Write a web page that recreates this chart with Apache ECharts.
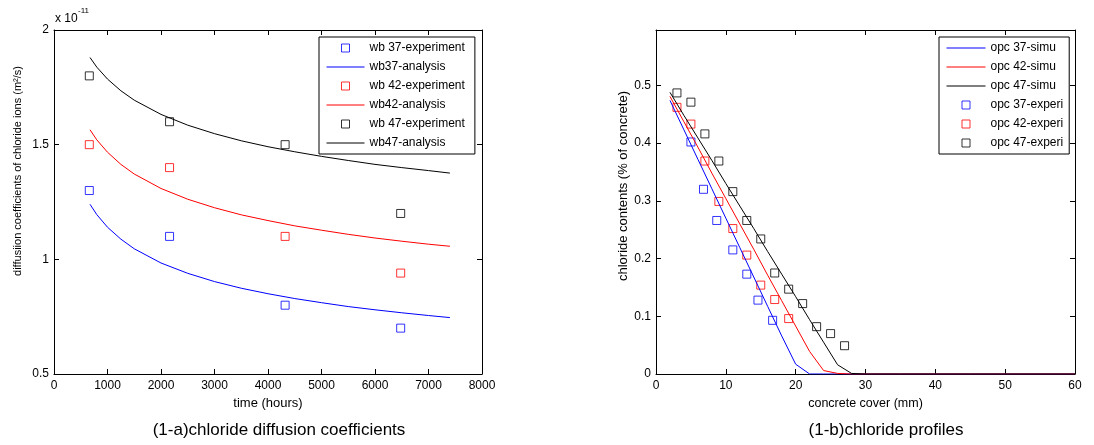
<!DOCTYPE html>
<html>
<head>
<meta charset="utf-8">
<script src="https://cdn.jsdelivr.net/npm/echarts@6/dist/echarts.min.js"></script>
<style>html,body{margin:0;padding:0;background:#fff}#c{width:1094px;height:445px}</style>
</head>
<body>
<div id="c"></div>
<script>
// ---------- (1-a) chloride diffusion coefficients ----------
const timeExp = [660, 2160, 4320, 6480];
const wb37Exp = [1.30, 1.10, 0.80, 0.70];
const wb42Exp = [1.50, 1.40, 1.10, 0.94];
const wb47Exp = [1.80, 1.60, 1.50, 1.20];
const timeAna = [673, 800, 1000, 1250, 1500, 2000, 2500, 3000, 3500, 4000, 4500, 5000, 5500, 6000, 6500, 7000, 7400];
const wb37Ana = [1.240, 1.195, 1.140, 1.088, 1.046, 0.984, 0.939, 0.903, 0.874, 0.850, 0.829, 0.811, 0.794, 0.780, 0.767, 0.755, 0.746];
const wb42Ana = [1.565, 1.521, 1.467, 1.414, 1.372, 1.309, 1.262, 1.225, 1.194, 1.169, 1.146, 1.127, 1.109, 1.093, 1.079, 1.066, 1.057];
const wb47Ana = [1.880, 1.838, 1.786, 1.735, 1.694, 1.632, 1.585, 1.548, 1.517, 1.491, 1.469, 1.449, 1.431, 1.414, 1.400, 1.387, 1.376];
const leftNames = ['wb 37-experiment', 'wb37-analysis', 'wb 42-experiment', 'wb42-analysis', 'wb 47-experiment', 'wb47-analysis'];

// ---------- (1-b) chloride profiles ----------
const coverSim = [2, 4, 6, 8, 10, 12, 14, 16, 18, 20, 22, 24, 26, 28, 30, 35, 40, 45, 50, 55, 60];
const opc37Sim = [0.474, 0.423, 0.372, 0.321, 0.270, 0.219, 0.168, 0.117, 0.066, 0.017, 0.000, 0, 0, 0, 0, 0, 0, 0, 0, 0, 0];
const opc42Sim = [0.481, 0.437, 0.393, 0.348, 0.304, 0.260, 0.216, 0.171, 0.127, 0.083, 0.039, 0.006, 0.001, 0, 0, 0, 0, 0, 0, 0, 0];
const opc47Sim = [0.488, 0.448, 0.409, 0.370, 0.330, 0.291, 0.252, 0.212, 0.173, 0.134, 0.094, 0.055, 0.016, 0.001, 0, 0, 0, 0, 0, 0, 0];
const cover37Exp = [5, 6.8, 8.7, 11, 13, 14.6, 16.7];
const opc37Exp = [0.402, 0.320, 0.266, 0.215, 0.173, 0.128, 0.093];
const cover42Exp = [3, 5, 7, 9, 11, 13, 15, 17, 19];
const opc42Exp = [0.462, 0.433, 0.369, 0.299, 0.252, 0.206, 0.154, 0.129, 0.096];
const cover47Exp = [3, 5, 7, 9, 11, 13, 15, 17, 19, 21, 23, 25, 27];
const opc47Exp = [0.487, 0.471, 0.416, 0.369, 0.316, 0.266, 0.234, 0.175, 0.147, 0.122, 0.082, 0.070, 0.049];
const rightNames = ['opc 37-simu', 'opc 42-simu', 'opc 47-simu', 'opc 37-experi', 'opc 42-experi', 'opc 47-experi'];

const BLUE = '#0000ff', RED = '#ff0000', BLACK = '#000000';
const FONT = '"Liberation Sans", Arial, Helvetica, sans-serif';
const zip = (xs, ys) => xs.map((x, i) => [x, ys[i]]);
const SQUARE = 'path://M0,0L10,0L10,10L0,10Z';

function scatter(name, xi, yi, xs, ys, color) {
  return { name, type: 'scatter', xAxisIndex: xi, yAxisIndex: yi, data: zip(xs, ys),
    symbol: 'rect', symbolSize: 8, silent: true,
    itemStyle: { color: 'rgba(0,0,0,0)', borderColor: color, borderWidth: 1 } };
}
function line(name, xi, yi, xs, ys, color) {
  return { name, type: 'line', xAxisIndex: xi, yAxisIndex: yi, data: zip(xs, ys),
    symbol: 'none', showSymbol: false, silent: true,
    lineStyle: { color, width: 1 }, itemStyle: { color } };
}
function legendItem(name, color, isSquare) {
  return isSquare
    ? { name, icon: SQUARE, itemStyle: { color: 'rgba(0,0,0,0)', borderColor: color, borderWidth: 1 } }
    : { name, itemStyle: { opacity: 0 }, lineStyle: { width: 1 } };
}
const plain = v => String(+v.toFixed(6));
function xAx(grid, min, max, interval, pos, show) {
  return { type: 'value', gridIndex: grid, min, max, interval, position: pos,
    axisLine: { show: true, onZero: false, lineStyle: { color: '#000', width: 1 } },
    axisTick: { show: true, inside: true, length: 5, lineStyle: { color: '#000' } },
    axisLabel: { show, color: '#000', fontSize: 12, fontFamily: FONT, margin: 6, formatter: plain },
    splitLine: { show: false } };
}
function yAx(grid, min, max, interval, pos, show) {
  return { type: 'value', gridIndex: grid, min, max, interval, position: pos,
    axisLine: { show: true, onZero: false, lineStyle: { color: '#000', width: 1 } },
    axisTick: { show: true, inside: true, length: 5, lineStyle: { color: '#000' } },
    axisLabel: { show, color: '#000', fontSize: 12, fontFamily: FONT, margin: 5, formatter: plain,
      showMaxLabel: max < 1 ? false : true },
    splitLine: { show: false } };
}

const chart = echarts.init(document.getElementById('c'), null, { renderer: 'canvas' });
const legendCommon = { orient: 'vertical', itemGap: 7, itemHeight: 8, backgroundColor: '#fff',
  borderColor: '#000', borderWidth: 1, borderRadius: 0, selectedMode: false,
  lineStyle: { width: 1 },
  textStyle: { fontSize: 12, color: '#000', fontFamily: FONT } };

chart.setOption({
  animation: false,
  backgroundColor: '#fff',
  grid: [
    { left: 54, top: 30, width: 428, height: 344 },
    { left: 656, top: 30, width: 419, height: 344 }
  ],
  xAxis: [
    Object.assign(xAx(0, 0, 8000, 1000, 'bottom', true), { name: 'time (hours)', nameLocation: 'middle', nameGap: 23,
      nameTextStyle: { color: '#000', fontSize: 13, fontFamily: FONT } }),
    xAx(0, 0, 8000, 1000, 'top', false),
    Object.assign(xAx(1, 0, 60, 10, 'bottom', true), { name: 'concrete cover (mm)', nameLocation: 'middle', nameGap: 23,
      nameTextStyle: { color: '#000', fontSize: 12.5, fontFamily: FONT } }),
    xAx(1, 0, 60, 10, 'top', false)
  ],
  yAxis: [
    yAx(0, 0.5, 2, 0.5, 'left', true),
    yAx(0, 0.5, 2, 0.5, 'right', false),
    yAx(1, 0, 0.596, 0.1, 'left', true),
    yAx(1, 0, 0.596, 0.1, 'right', false)
  ],
  legend: [
    Object.assign({}, legendCommon, { left: 319, top: 37, itemWidth: 38, padding: [5, 10, 5, 7],
      data: [legendItem(leftNames[0], BLUE, true), legendItem(leftNames[1]), legendItem(leftNames[2], RED, true),
             legendItem(leftNames[3]), legendItem(leftNames[4], BLACK, true), legendItem(leftNames[5])] }),
    Object.assign({}, legendCommon, { left: 939, top: 37, itemWidth: 39, padding: [5, 6, 5, 7],
      data: [legendItem(rightNames[0]), legendItem(rightNames[1]), legendItem(rightNames[2]),
             legendItem(rightNames[3], BLUE, true), legendItem(rightNames[4], RED, true), legendItem(rightNames[5], BLACK, true)] })
  ],
  series: [
    scatter(leftNames[0], 0, 0, timeExp, wb37Exp, BLUE),
    line(leftNames[1], 0, 0, timeAna, wb37Ana, BLUE),
    scatter(leftNames[2], 0, 0, timeExp, wb42Exp, RED),
    line(leftNames[3], 0, 0, timeAna, wb42Ana, RED),
    scatter(leftNames[4], 0, 0, timeExp, wb47Exp, BLACK),
    line(leftNames[5], 0, 0, timeAna, wb47Ana, BLACK),
    line(rightNames[0], 2, 2, coverSim, opc37Sim, BLUE),
    line(rightNames[1], 2, 2, coverSim, opc42Sim, RED),
    line(rightNames[2], 2, 2, coverSim, opc47Sim, BLACK),
    scatter(rightNames[3], 2, 2, cover37Exp, opc37Exp, BLUE),
    scatter(rightNames[4], 2, 2, cover42Exp, opc42Exp, RED),
    scatter(rightNames[5], 2, 2, cover47Exp, opc47Exp, BLACK)
  ],
  graphic: [
    { type: 'text', x: 55, y: 19, style: { text: 'x 10', fill: '#000', font: '12px ' + FONT, textAlign: 'left', textVerticalAlign: 'middle' } },
    { type: 'text', x: 78, y: 11, style: { text: '-11', fill: '#000', font: '8px ' + FONT, textAlign: 'left', textVerticalAlign: 'middle' } },
    { type: 'text', x: 18, y: 171, rotation: Math.PI / 2,
      style: { text: 'diffusiion coefficients of chloride ions (m²/s)', fill: '#000', font: '11px ' + FONT, textAlign: 'center', textVerticalAlign: 'middle' } },
    { type: 'text', x: 623, y: 186, rotation: Math.PI / 2,
      style: { text: 'chloride contents (% of concrete)', fill: '#000', font: '13px ' + FONT, textAlign: 'center', textVerticalAlign: 'middle' } },
    { type: 'text', x: 279, y: 430,
      style: { text: '(1-a)chloride diffusion coefficients', fill: '#000', font: '17px ' + FONT, textAlign: 'center', textVerticalAlign: 'middle' } },
    { type: 'text', x: 886, y: 430,
      style: { text: '(1-b)chloride profiles', fill: '#000', font: '17px ' + FONT, textAlign: 'center', textVerticalAlign: 'middle' } }
  ]
});
</script>
</body>
</html>
